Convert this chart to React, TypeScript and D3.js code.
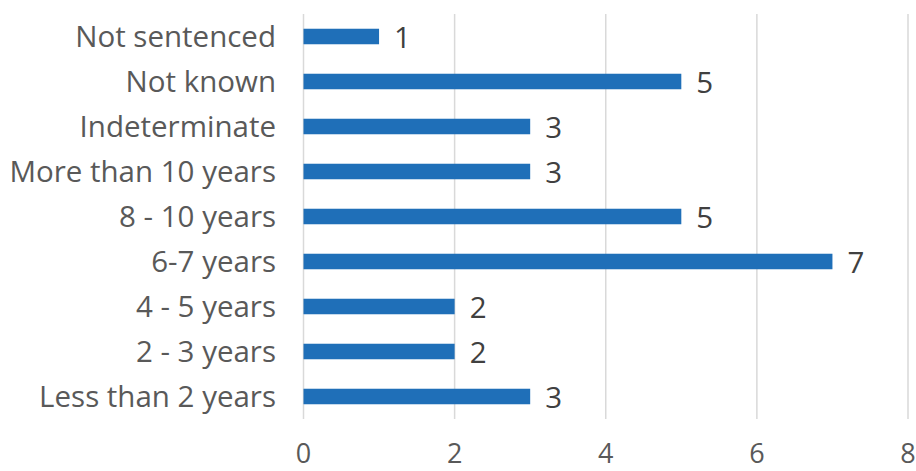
import React from "react";
import * as d3 from "d3";

const categories = [
  "Not sentenced",
  "Not known",
  "Indeterminate",
  "More than 10 years",
  "8 - 10 years",
  "6-7 years",
  "4 - 5 years",
  "2 - 3 years",
  "Less than 2 years",
];
const values = [1, 5, 3, 3, 5, 7, 2, 2, 3];
const xTicks = [0, 2, 4, 6, 8];

const W = 916;
const H = 471;
const FONT = "'Open Sans', sans-serif";
const FS = 29.5;

export default function App() {
  const x = d3.scaleLinear().domain([0, 8]).range([303.5, 908]);
  const y = d3
    .scaleBand<string>()
    .domain(categories)
    .range([14, 419])
    .paddingInner(0.655)
    .paddingOuter(0.3275);
  const bw = y.bandwidth();
  return (
    <svg
      width={W}
      height={H}
      style={{ position: "absolute", left: 0, top: 0, background: "#fff" }}
    >
      {xTicks.map((t) => (
        <g key={t}>
          <line x1={x(t)} x2={x(t)} y1={14} y2={419} stroke="#d9d9d9" strokeWidth={1.5} />
          <text
            x={x(t)}
            y={463}
            textAnchor="middle"
            fontFamily={FONT}
            fontSize={27}
            fill="#595959"
          >
            {t}
          </text>
        </g>
      ))}
      {categories.map((c, i) => (
        <g key={c}>
          <rect
            x={x(0)}
            y={y(c)!}
            width={x(values[i]) - x(0)}
            height={bw}
            fill="#1f6fb8"
          />
          <text
            x={276}
            y={y(c)! + bw / 2 + 10}
            textAnchor="end"
            fontFamily={FONT}
            fontSize={FS}
            fill="#595959"
          >
            {c}
          </text>
          <text
            x={x(values[i]) + 15}
            y={y(c)! + bw / 2 + 11}
            textAnchor="start"
            fontFamily={FONT}
            fontSize={FS}
            fill="#404040"
          >
            {values[i]}
          </text>
        </g>
      ))}
    </svg>
  );
}
